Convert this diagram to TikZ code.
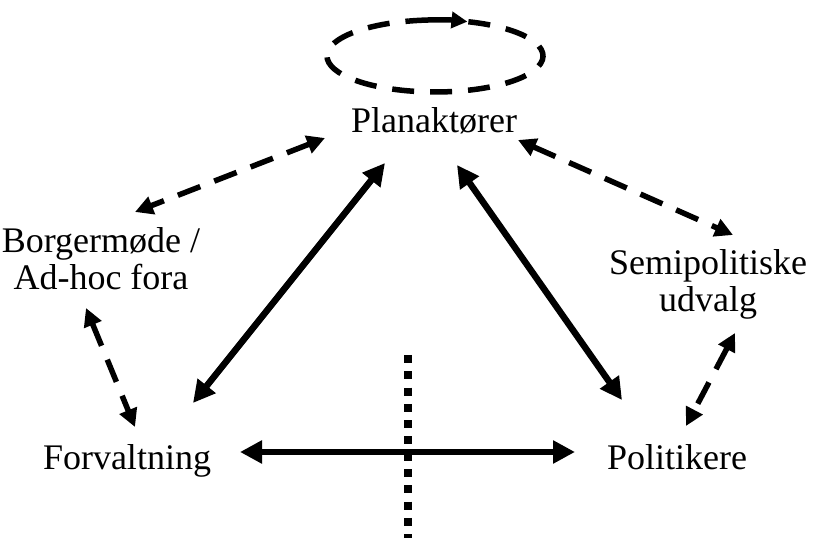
\documentclass[tikz,border=0pt]{standalone}
\usepackage{fontspec}
\setmainfont{Liberation Serif}
\usetikzlibrary{arrows.meta}
\begin{document}
\begin{tikzpicture}[x=1pt,y=1pt,
  lbl/.style={inner sep=0pt, anchor=base, align=center, font=\fontsize{36}{37}\selectfont},
  solidarrow/.style={line width=6.5pt, {Triangle[length=22pt,width=22pt]}-{Triangle[length=22pt,width=22pt]}},
  dasharrow/.style={line width=5.5pt, dash pattern=on 24pt off 15pt, {Triangle[length=18pt,width=18pt]}-{Triangle[length=18pt,width=18pt]}},
  loopline/.style={line width=5.5pt, dash pattern=on 22pt off 16pt},
  dotline/.style={line width=8pt, dash pattern=on 8pt off 8.3pt}]
\useasboundingbox (0,0) rectangle (837,540);
% text nodes
\node[lbl] (plan) at (434,407) {Planaktører};
\node[lbl] (forv) at (127,70) {Forvaltning};
\node[lbl] (pol) at (677,70) {Politikere};
\node[lbl] (borg) at (101,250) {Borgermøde /\\Ad-hoc fora};
\node[lbl] (semi) at (708,228) {Semipolitiske\\udvalg};
% endpoints
\coordinate (pfA) at (385,377); \coordinate (pfB) at (193,137);
\coordinate (ppA) at (457,375); \coordinate (ppB) at (622,140);
\coordinate (fpA) at (240,88);  \coordinate (fpB) at (575,88);
\coordinate (pbA) at (325,402); \coordinate (pbB) at (135,328);
\coordinate (psA) at (518,400); \coordinate (psB) at (733,305);
\coordinate (bfA) at (86,232);  \coordinate (bfB) at (135,113);
\coordinate (spA) at (735,207); \coordinate (spB) at (686,114);
\coordinate (dotT) at (408,185); \coordinate (dotB) at (408,2);
\coordinate (loopc) at (435,484);
% loop
\draw[loopline] (loopc) ++(72:108 and 36) arc[start angle=72, end angle=-256, x radius=108, y radius=36];
\draw[line width=5.5pt, -{Triangle[length=16pt,width=16pt]}] (loopc) ++(104:108 and 36) arc[start angle=104, end angle=72.5, x radius=108, y radius=36];
% dotted
\draw[dotline] (dotT) -- (dotB);
% solid arrows
\draw[solidarrow] (pfA) -- (pfB);
\draw[solidarrow] (ppA) -- (ppB);
\draw[solidarrow] (fpA) -- (fpB);
% dashed arrows
\draw[dasharrow] (pbA) -- (pbB);
\draw[dasharrow] (psA) -- (psB);
\draw[dasharrow] (bfA) -- (bfB);
\draw[dasharrow] (spA) -- (spB);
\end{tikzpicture}
\end{document}
